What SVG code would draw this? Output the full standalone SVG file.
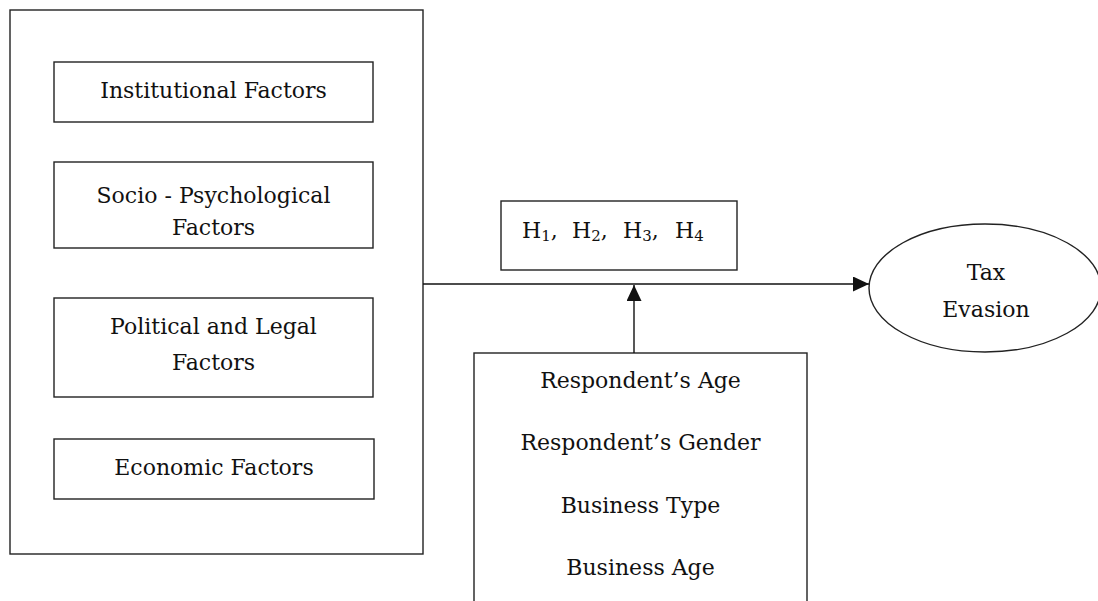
<svg xmlns="http://www.w3.org/2000/svg" width="1098" height="601" viewBox="0 0 1098 601">
  <style>
    .box { fill: #ffffff; stroke: #222222; stroke-width: 1.4; }
    .lbl { font-family: "DejaVu Serif", "Liberation Serif", serif; font-size: 22px; fill: #111111; text-anchor: middle; }
    .hyp { font-family: "DejaVu Serif", "Liberation Serif", serif; font-size: 22px; fill: #111111; }
    .sub { font-size: 15px; }
    .wire { fill: none; stroke: #111111; stroke-width: 1.4; }
  </style>
  <defs>
    <marker id="arrow" viewBox="0 0 16 15" refX="16" refY="7.5" markerWidth="16" markerHeight="15" markerUnits="userSpaceOnUse" orient="auto">
      <path d="M0,0 L16,7.5 L0,15 Z" fill="#111111"/>
    </marker>
  </defs>
  <rect width="1098" height="601" fill="#ffffff"/>

  <!-- factor group -->
  <g id="factors">
    <rect class="box" x="10" y="10" width="413" height="544"/>
  </g>
  <g id="institutional">
    <rect class="box" x="54" y="62" width="319" height="60"/>
    <text class="lbl" x="213.5" y="98">Institutional Factors</text>
  </g>
  <g id="socio">
    <rect class="box" x="54" y="162" width="319" height="86"/>
    <text class="lbl" x="213.5" y="203">Socio - Psychological</text>
    <text class="lbl" x="213.5" y="235">Factors</text>
  </g>
  <g id="political">
    <rect class="box" x="54" y="298" width="319" height="99"/>
    <text class="lbl" x="213.5" y="334">Political and Legal</text>
    <text class="lbl" x="213.5" y="370">Factors</text>
  </g>
  <g id="economic">
    <rect class="box" x="54" y="439" width="320" height="60"/>
    <text class="lbl" x="214" y="475">Economic Factors</text>
  </g>

  <!-- hypotheses -->
  <g id="hypotheses">
    <rect class="box" x="501" y="201" width="236" height="69"/>
    <text class="hyp" y="238"><tspan x="522">H</tspan><tspan class="sub" dy="3">1</tspan><tspan dy="-3">,</tspan></text>
    <text class="hyp" y="238"><tspan x="572">H</tspan><tspan class="sub" dy="3">2</tspan><tspan dy="-3">,</tspan></text>
    <text class="hyp" y="238"><tspan x="623">H</tspan><tspan class="sub" dy="3">3</tspan><tspan dy="-3">,</tspan></text>
    <text class="hyp" y="238"><tspan x="675">H</tspan><tspan class="sub" dy="3">4</tspan></text>
  </g>

  <!-- outcome -->
  <g id="tax-evasion">
    <ellipse class="box" cx="985" cy="288" rx="116" ry="64"/>
    <text class="lbl" x="986" y="280">Tax</text>
    <text class="lbl" x="986" y="317">Evasion</text>
  </g>

  <!-- control variables -->
  <g id="controls">
    <rect class="box" x="474" y="353" width="333" height="260"/>
    <text class="lbl" x="640.5" y="388">Respondent’s Age</text>
    <text class="lbl" x="640.5" y="450">Respondent’s Gender</text>
    <text class="lbl" x="640.5" y="513">Business Type</text>
    <text class="lbl" x="640.5" y="575">Business Age</text>
  </g>

  <!-- connectors -->
  <g id="connectors">
    <line class="wire" x1="423" y1="284" x2="869" y2="284" marker-end="url(#arrow)"/>
    <line class="wire" x1="634" y1="353" x2="634" y2="285" marker-end="url(#arrow)"/>
  </g>
</svg>
